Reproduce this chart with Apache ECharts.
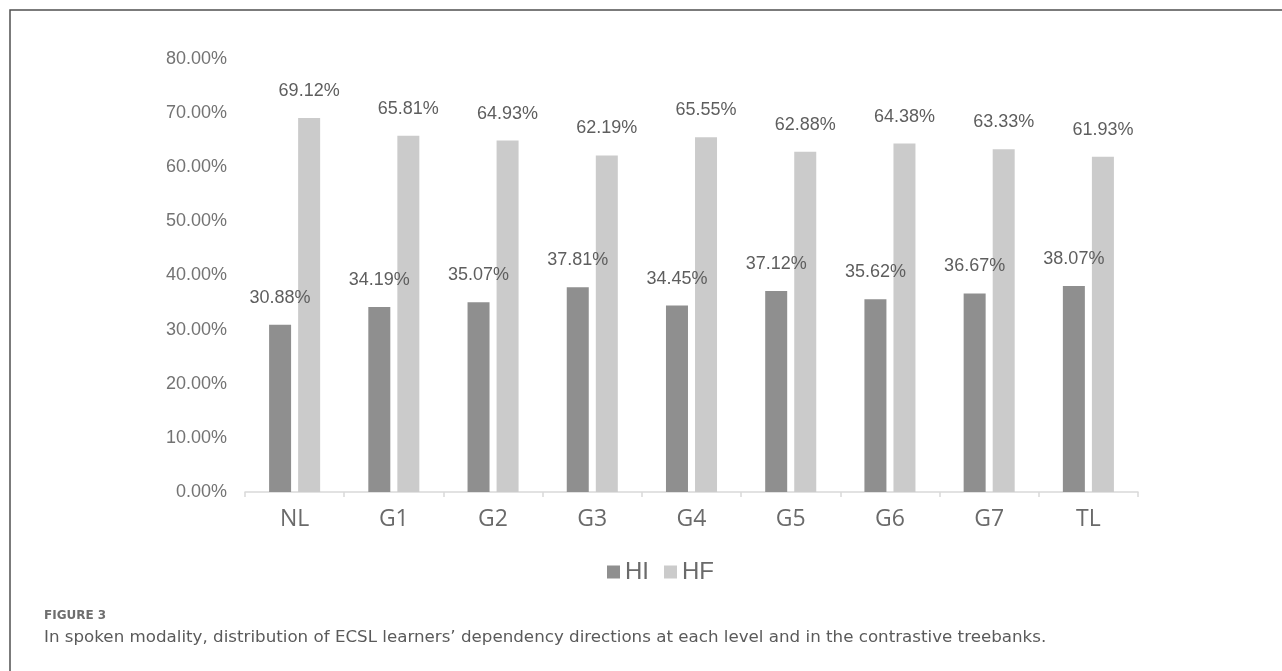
<!DOCTYPE html>
<html>
<head>
<meta charset="utf-8">
<title>Dependency directions — spoken modality</title>
<script src="https://cdn.jsdelivr.net/npm/echarts@6/dist/echarts.min.js"></script>
<style>
  html, body { margin: 0; padding: 0; background: #ffffff; }
  #chart { width: 1282px; height: 671px; }
</style>
</head>
<body>
<div id="chart"></div>
<script>
// Learner levels and the two contrastive treebanks
const categories = ['NL', 'G1', 'G2', 'G3', 'G4', 'G5', 'G6', 'G7', 'TL'];
// Head-initial share (%)
const hiValues = [30.88, 34.19, 35.07, 37.81, 34.45, 37.12, 35.62, 36.67, 38.07];
// Head-final share (%)
const hfValues = [69.12, 65.81, 64.93, 62.19, 65.55, 62.88, 64.38, 63.33, 61.93];
// Value axis range and step (%)
const yMin = 0;
const yMax = 80;
const yStep = 10;

const figureLabel = 'FIGURE 3';
const captionText = 'In spoken modality, distribution of ECSL learners\u2019 dependency directions at each level and in the contrastive treebanks.';

const arial = '"Liberation Sans", Arial, sans-serif';
const pct = v => v.toFixed(2) + '%';

const chart = echarts.init(document.getElementById('chart'));

const labelStyle = {
  show: true,
  position: 'top',
  distance: 18,
  formatter: p => pct(p.value),
  fontFamily: arial,
  fontSize: 18,
  color: '#5e5e5e'
};

chart.setOption({
  animation: false,
  backgroundColor: '#ffffff',
  title: {
    left: 44,
    top: 610,
    padding: 0,
    text: figureLabel,
    subtext: captionText,
    itemGap: 7,
    textStyle: {
      fontFamily: '"DejaVu Sans", sans-serif',
      fontWeight: 'bold',
      fontSize: 12,
      color: '#6e6e6e'
    },
    subtextStyle: {
      fontFamily: '"DejaVu Sans", sans-serif',
      fontSize: 16.7,
      color: '#5a5a5a'
    }
  },
  graphic: [
    {
      type: 'polyline',
      silent: true,
      shape: { points: [[10, 671], [10, 10], [1282, 10]] },
      style: { stroke: '#505050', lineWidth: 1.5, fill: null }
    }
  ],
  legend: {
    data: ['HI', 'HF'],
    left: 602,
    top: 555,
    icon: 'rect',
    itemWidth: 13,
    itemHeight: 13,
    itemGap: 15,
    textStyle: {
      fontFamily: arial,
      fontSize: 24,
      color: '#6a6a6a'
    }
  },
  grid: {
    left: 245,
    right: 144,
    top: 59,
    bottom: 179,
    containLabel: false
  },
  xAxis: {
    type: 'category',
    data: categories,
    axisLine: { lineStyle: { color: '#d9d9d9', width: 1.5 } },
    axisTick: { show: true, alignWithLabel: false, length: 5, lineStyle: { color: '#d9d9d9', width: 1.5 } },
    axisLabel: {
      margin: 16,
      fontFamily: '"Open Sans", Lato, sans-serif',
      fontSize: 23,
      color: '#6a6a6a'
    }
  },
  yAxis: {
    type: 'value',
    min: yMin,
    max: yMax,
    interval: yStep,
    axisLine: { show: false },
    axisTick: { show: false },
    splitLine: { show: false },
    axisLabel: {
      margin: 18,
      formatter: v => pct(v),
      fontFamily: arial,
      fontSize: 18,
      color: '#737373'
    }
  },
  series: [
    {
      name: 'HI',
      type: 'bar',
      data: hiValues,
      barWidth: 22,
      barGap: '32%',
      itemStyle: { color: '#8f8f8f' },
      label: labelStyle
    },
    {
      name: 'HF',
      type: 'bar',
      data: hfValues,
      barWidth: 22,
      itemStyle: { color: '#cbcbcb' },
      label: labelStyle
    }
  ]
});
</script>
</body>
</html>
